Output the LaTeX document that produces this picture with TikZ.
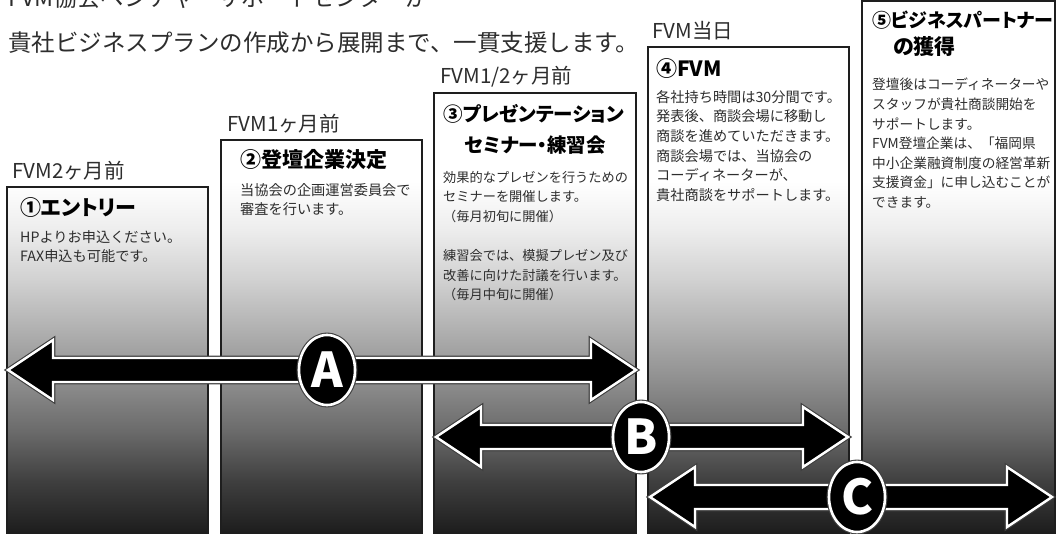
\documentclass[tikz,border=0pt]{standalone}
\usepackage{fontspec}
\setmainfont{Noto Sans CJK JP}
\usetikzlibrary{calc,shapes.geometric}
\definecolor{inkgray}{RGB}{45,45,45}
\definecolor{framegray}{RGB}{30,30,30}

% grey fade of the time columns, fixed to the page height
\pgfdeclareverticalshading{colfade}{100bp}{%
  color(0bp)=(black!89); color(25bp)=(black!89); color(30bp)=(black!75);
  color(34.7bp)=(black!58); color(39.4bp)=(black!44); color(44.1bp)=(black!31);
  color(48.8bp)=(black!18); color(53.5bp)=(black!7); color(58bp)=(white);
  color(100bp)=(white)}

\tikzset{
  headline/.style={anchor=west, inner sep=0pt, text=inkgray, font=\fontsize{23.5}{26}\selectfont},
  when/.style={anchor=west, inner sep=0pt, text=inkgray, font=\fontsize{20.5}{22}\selectfont},
  steptitle/.style={anchor=north west, inner sep=0pt, align=left, text=black,
    font=\fontsize{21}{30}\selectfont\bfseries\addfontfeatures{RawFeature=+palt}},
  stepbody/.style={anchor=north west, inner sep=0pt, align=left, text=inkgray,
    font=\fontsize{14.2}{19.6}\selectfont},
  colframe/.style={draw=framegray, line width=1.6pt},
  arrowbody/.style={fill=black, draw=white, line width=2.4pt,
    preaction={draw=black!75, line width=4.6pt}},
  badge/.style={ellipse, inner sep=0pt, minimum width=56pt, minimum height=70pt,
    fill=black, draw=white, line width=2.6pt, text=white,
    font=\fontsize{48}{48}\selectfont\bfseries,
    preaction={draw=black!75, line width=4.8pt}}
}

% double block arrow between two named points
\newcommand{\spanarrow}[2]{%
  \path[arrowbody] let \p1=(#1), \p2=(#2) in
    (\x1,\y1) -- (\x1+45pt,\y1+30pt) -- (\x1+45pt,\y1+12pt) -- (\x2-45pt,\y1+12pt)
    -- (\x2-45pt,\y1+30pt) -- (\x2,\y1) -- (\x2-45pt,\y1-30pt) -- (\x2-45pt,\y1-12pt)
    -- (\x1+45pt,\y1-12pt) -- (\x1+45pt,\y1-30pt) -- cycle;}

\begin{document}
\begin{tikzpicture}[x=1pt,y=-1pt]
\useasboundingbox (0,0) rectangle (1056,534);
\clip (0,0) rectangle (1056,534);
% heading
\node[headline] (head1) at (8,-2) {FVM協会ベンチャーサポートセンターが};
\node[headline] (head2) at (8,43) {貴社ビジネスプランの作成から展開まで、一貫支援します。};
% columns
\foreach \xl/\xr/\yt in {7/208/187, 221/422/140, 434/636/93, 648/849/47, 862/1055/1} {
  \begin{scope}
    \clip (\xl,\yt) rectangle (\xr,540);
    \shade[shading=colfade] (0,0) rectangle (1056,534);
  \end{scope}
  \draw[colframe] (\xl,\yt) rectangle (\xr,540);
}
% step 1
\node[when] (when1) at (12,171) {FVM2ヶ月前};
\node[steptitle] (step1) at (20,197) {①エントリー};
\node[stepbody] (body1) at (20,230) {HPよりお申込ください。\\FAX申込も可能です。};
% step 2
\node[when] (when2) at (227,124) {FVM1ヶ月前};
\node[steptitle] (step2) at (240,149) {②登壇企業決定};
\node[stepbody] (body2) at (240,183) {当協会の企画運営委員会で\\審査を行います。};
% step 3
\node[when] (when3) at (440,77) {FVM1/2ヶ月前};
\node[steptitle, font=\fontsize{19.5}{31}\selectfont\bfseries\addfontfeatures{RawFeature=+palt}] (step3) at (443,104) {③プレゼンテーション\\\hspace{1.1em}セミナー・練習会};
\node[stepbody, font=\fontsize{13.2}{19.6}\selectfont] (body3) at (443,171) {効果的なプレゼンを行うための\\セミナーを開催します。\\（毎月初旬に開催）\\[19.6pt]練習会では、模擬プレゼン及び\\改善に向けた討議を行います。\\（毎月中旬に開催）};
% step 4
\node[when] (when4) at (652,31) {FVM当日};
\node[steptitle] (step4) at (656,58) {④FVM};
\node[stepbody] (body4) at (656,90) {各社持ち時間は30分間です。\\発表後、商談会場に移動し\\商談を進めていただきます。\\商談会場では、当協会の\\コーディネーターが、\\貴社商談をサポートします。};
% step 5
\node[steptitle, font=\fontsize{19}{27}\selectfont\bfseries\addfontfeatures{RawFeature=+palt}] (step5) at (872,11) {⑤ビジネスパートナー\\\hspace{1.1em}{\fontsize{21}{27}\selectfont の獲得}};
\node[stepbody, font=\fontsize{13.7}{19.6}\selectfont] (body5) at (872,78) {登壇後はコーディネーターや\\スタッフが貴社商談開始を\\サポートします。\\FVM登壇企業は、「福岡県\\中小企業融資制度の経営革新\\支援資金」に申し込むことが\\できます。};
% support spans
\coordinate (aL) at (8,370);
\coordinate (aR) at (636,370);
\coordinate (bL) at (436,437);
\coordinate (bR) at (848,437);
\coordinate (cL) at (650,497);
\coordinate (cR) at (1052,497);
\spanarrow{aL}{aR}
\spanarrow{bL}{bR}
\spanarrow{cL}{cR}
\node[badge] (tagA) at (327,370) {A};
\node[badge] (tagB) at (641,437) {B};
\node[badge] (tagC) at (857,497) {C};
\end{tikzpicture}
\end{document}
